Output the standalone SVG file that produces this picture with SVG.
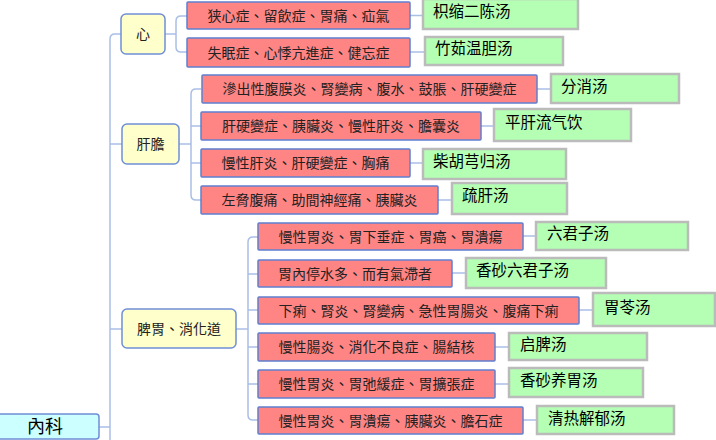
<svg xmlns="http://www.w3.org/2000/svg" width="716" height="440" viewBox="0 0 716 440">
<style>
.c{fill:none;stroke:#a9bfe6;stroke-width:1.5}
.root{fill:#ccffff;stroke:#6f8fd6;stroke-width:1.5}
.cat{fill:#ffffcc;stroke:#6f8fd6;stroke-width:1.5}
.dis{fill:#ff8585;stroke:#5f7fd0;stroke-width:1.5}
.rx{fill:#b4ffb4;stroke:#bbbbbb;stroke-width:2.5}
text{font-family:"Noto Sans CJK TC","Noto Sans CJK SC",sans-serif;fill:#222}
.tr{font-size:18px;text-anchor:middle;fill:#000}
.tc{font-size:14px;text-anchor:middle}
.td{font-size:14px;text-anchor:middle}
.tx{font-family:"Noto Sans CJK SC","Noto Sans CJK TC",sans-serif;font-size:15.5px;fill:#000}
</style>
<rect width="716" height="440" fill="#ffffff"/>
<g id="connectors">
<path class="c" d="M110,440 V39 Q110,34 115,34 H121"/>
<path class="c" d="M110,144 H122 M110,329 H122 M99,427 H110"/>
<path class="c" d="M165,34 H176 M187,16 H181 Q176,16 176,21 V47 Q176,52 181,52 H187"/>
<path class="c" d="M179,144 H191 M201,89 H196 Q191,89 191,94 V195 Q191,200 196,200 H201 M191,126 H201 M191,163 H201"/>
<path class="c" d="M236,329 H248 M258,237 H253 Q248,237 248,242 V415 Q248,420 253,420 H258 M248,274 H258 M248,310 H258 M248,347 H258 M248,384 H258"/>
<path class="c" d="M410,15.5 H423 M410,52 H425 M537,89 H551 M481,126 H494 M410,163 H423 M438,200 H452 M523,236 H536 M452,273 H466 M579,310 H593 M495,347 H509 M495,384 H509 M523,420 H537"/>
</g>
<g id="n-root"><rect class="root" x="-5" y="414" width="104" height="25" rx="3"/><text class="tr" x="45" y="433">內科</text></g>
<g id="n-xin"><rect class="cat" x="121" y="14" width="44" height="40" rx="5"/><text class="tc" x="143" y="39">心</text></g>
<g id="n-gandan"><rect class="cat" x="122" y="124" width="57" height="40" rx="5"/><text class="tc" x="150.5" y="149">肝膽</text></g>
<g id="n-piwei"><rect class="cat" x="122" y="309" width="114" height="39" rx="5"/><text class="tc" x="179" y="334">脾胃、消化道</text></g>

<g id="d1"><rect class="dis" x="187" y="2" width="223" height="27" rx="1"/><text class="td" x="298.5" y="20.5">狭心症、留飲症、胃痛、疝氣</text></g>
<g id="d2"><rect class="dis" x="187" y="38" width="223" height="29" rx="1"/><text class="td" x="298.5" y="57.5">失眠症、心悸亢進症、健忘症</text></g>
<g id="d3"><rect class="dis" x="202" y="75" width="335" height="28" rx="1"/><text class="td" x="369.5" y="94">滲出性腹膜炎、腎變病、腹水、鼓脹、肝硬變症</text></g>
<g id="d4"><rect class="dis" x="201" y="112" width="280" height="28" rx="1"/><text class="td" x="341" y="131">肝硬變症、胰臟炎、慢性肝炎、膽囊炎</text></g>
<g id="d5"><rect class="dis" x="201" y="149" width="209" height="28" rx="1"/><text class="td" x="305.5" y="168">慢性肝炎、肝硬變症、胸痛</text></g>
<g id="d6"><rect class="dis" x="201" y="186" width="237" height="28" rx="1"/><text class="td" x="319.5" y="205">左脅腹痛、助間神經痛、胰臟炎</text></g>
<g id="d7"><rect class="dis" x="258" y="223" width="265" height="27" rx="1"/><text class="td" x="390.5" y="241.5">慢性胃炎、胃下垂症、胃癌、胃潰瘍</text></g>
<g id="d8"><rect class="dis" x="258" y="260" width="194" height="27" rx="1"/><text class="td" x="355" y="278.5">胃內停水多、而有氣滯者</text></g>
<g id="d9"><rect class="dis" x="258" y="297" width="321" height="27" rx="1"/><text class="td" x="418.5" y="315.5">下痢、腎炎、腎變病、急性胃腸炎、腹痛下痢</text></g>
<g id="d10"><rect class="dis" x="258" y="333" width="237" height="28" rx="1"/><text class="td" x="376.5" y="352">慢性腸炎、消化不良症、腸結核</text></g>
<g id="d11"><rect class="dis" x="258" y="370" width="237" height="28" rx="1"/><text class="td" x="376.5" y="389">慢性胃炎、胃弛緩症、胃擴張症</text></g>
<g id="d12"><rect class="dis" x="258" y="407" width="265" height="27" rx="1"/><text class="td" x="390.5" y="425.5">慢性胃炎、胃潰瘍、胰臟炎、膽石症</text></g>

<g id="r1"><rect class="rx" x="423" y="-1" width="155" height="30"/><text class="tx" x="433" y="17">枳缩二陈汤</text></g>
<g id="r2"><rect class="rx" x="425" y="37" width="138" height="28"/><text class="tx" x="435" y="54">竹茹温胆汤</text></g>
<g id="r3"><rect class="rx" x="551" y="74" width="128" height="29"/><text class="tx" x="561" y="91.5">分消汤</text></g>
<g id="r4"><rect class="rx" x="494" y="109" width="137" height="32"/><text class="tx" x="505" y="127.5">平肝流气饮</text></g>
<g id="r5"><rect class="rx" x="423" y="149" width="143" height="30"/><text class="tx" x="433" y="166.5">柴胡芎归汤</text></g>
<g id="r6"><rect class="rx" x="452" y="183" width="115" height="31"/><text class="tx" x="462" y="201">疏肝汤</text></g>
<g id="r7"><rect class="rx" x="536" y="222" width="152" height="28"/><text class="tx" x="547" y="239">六君子汤</text></g>
<g id="r8"><rect class="rx" x="466" y="258" width="140" height="30"/><text class="tx" x="476" y="275.5">香砂六君子汤</text></g>
<g id="r9"><rect class="rx" x="593" y="293" width="122" height="33"/><text class="tx" x="604" y="312.5">胃苓汤</text></g>
<g id="r10"><rect class="rx" x="509" y="333" width="138" height="27"/><text class="tx" x="520" y="349.5">启脾汤</text></g>
<g id="r11"><rect class="rx" x="509" y="368" width="134" height="29"/><text class="tx" x="520" y="385.5">香砂养胃汤</text></g>
<g id="r12"><rect class="rx" x="537" y="406" width="137" height="28"/><text class="tx" x="548" y="423.5">清热解郁汤</text></g>
</svg>
